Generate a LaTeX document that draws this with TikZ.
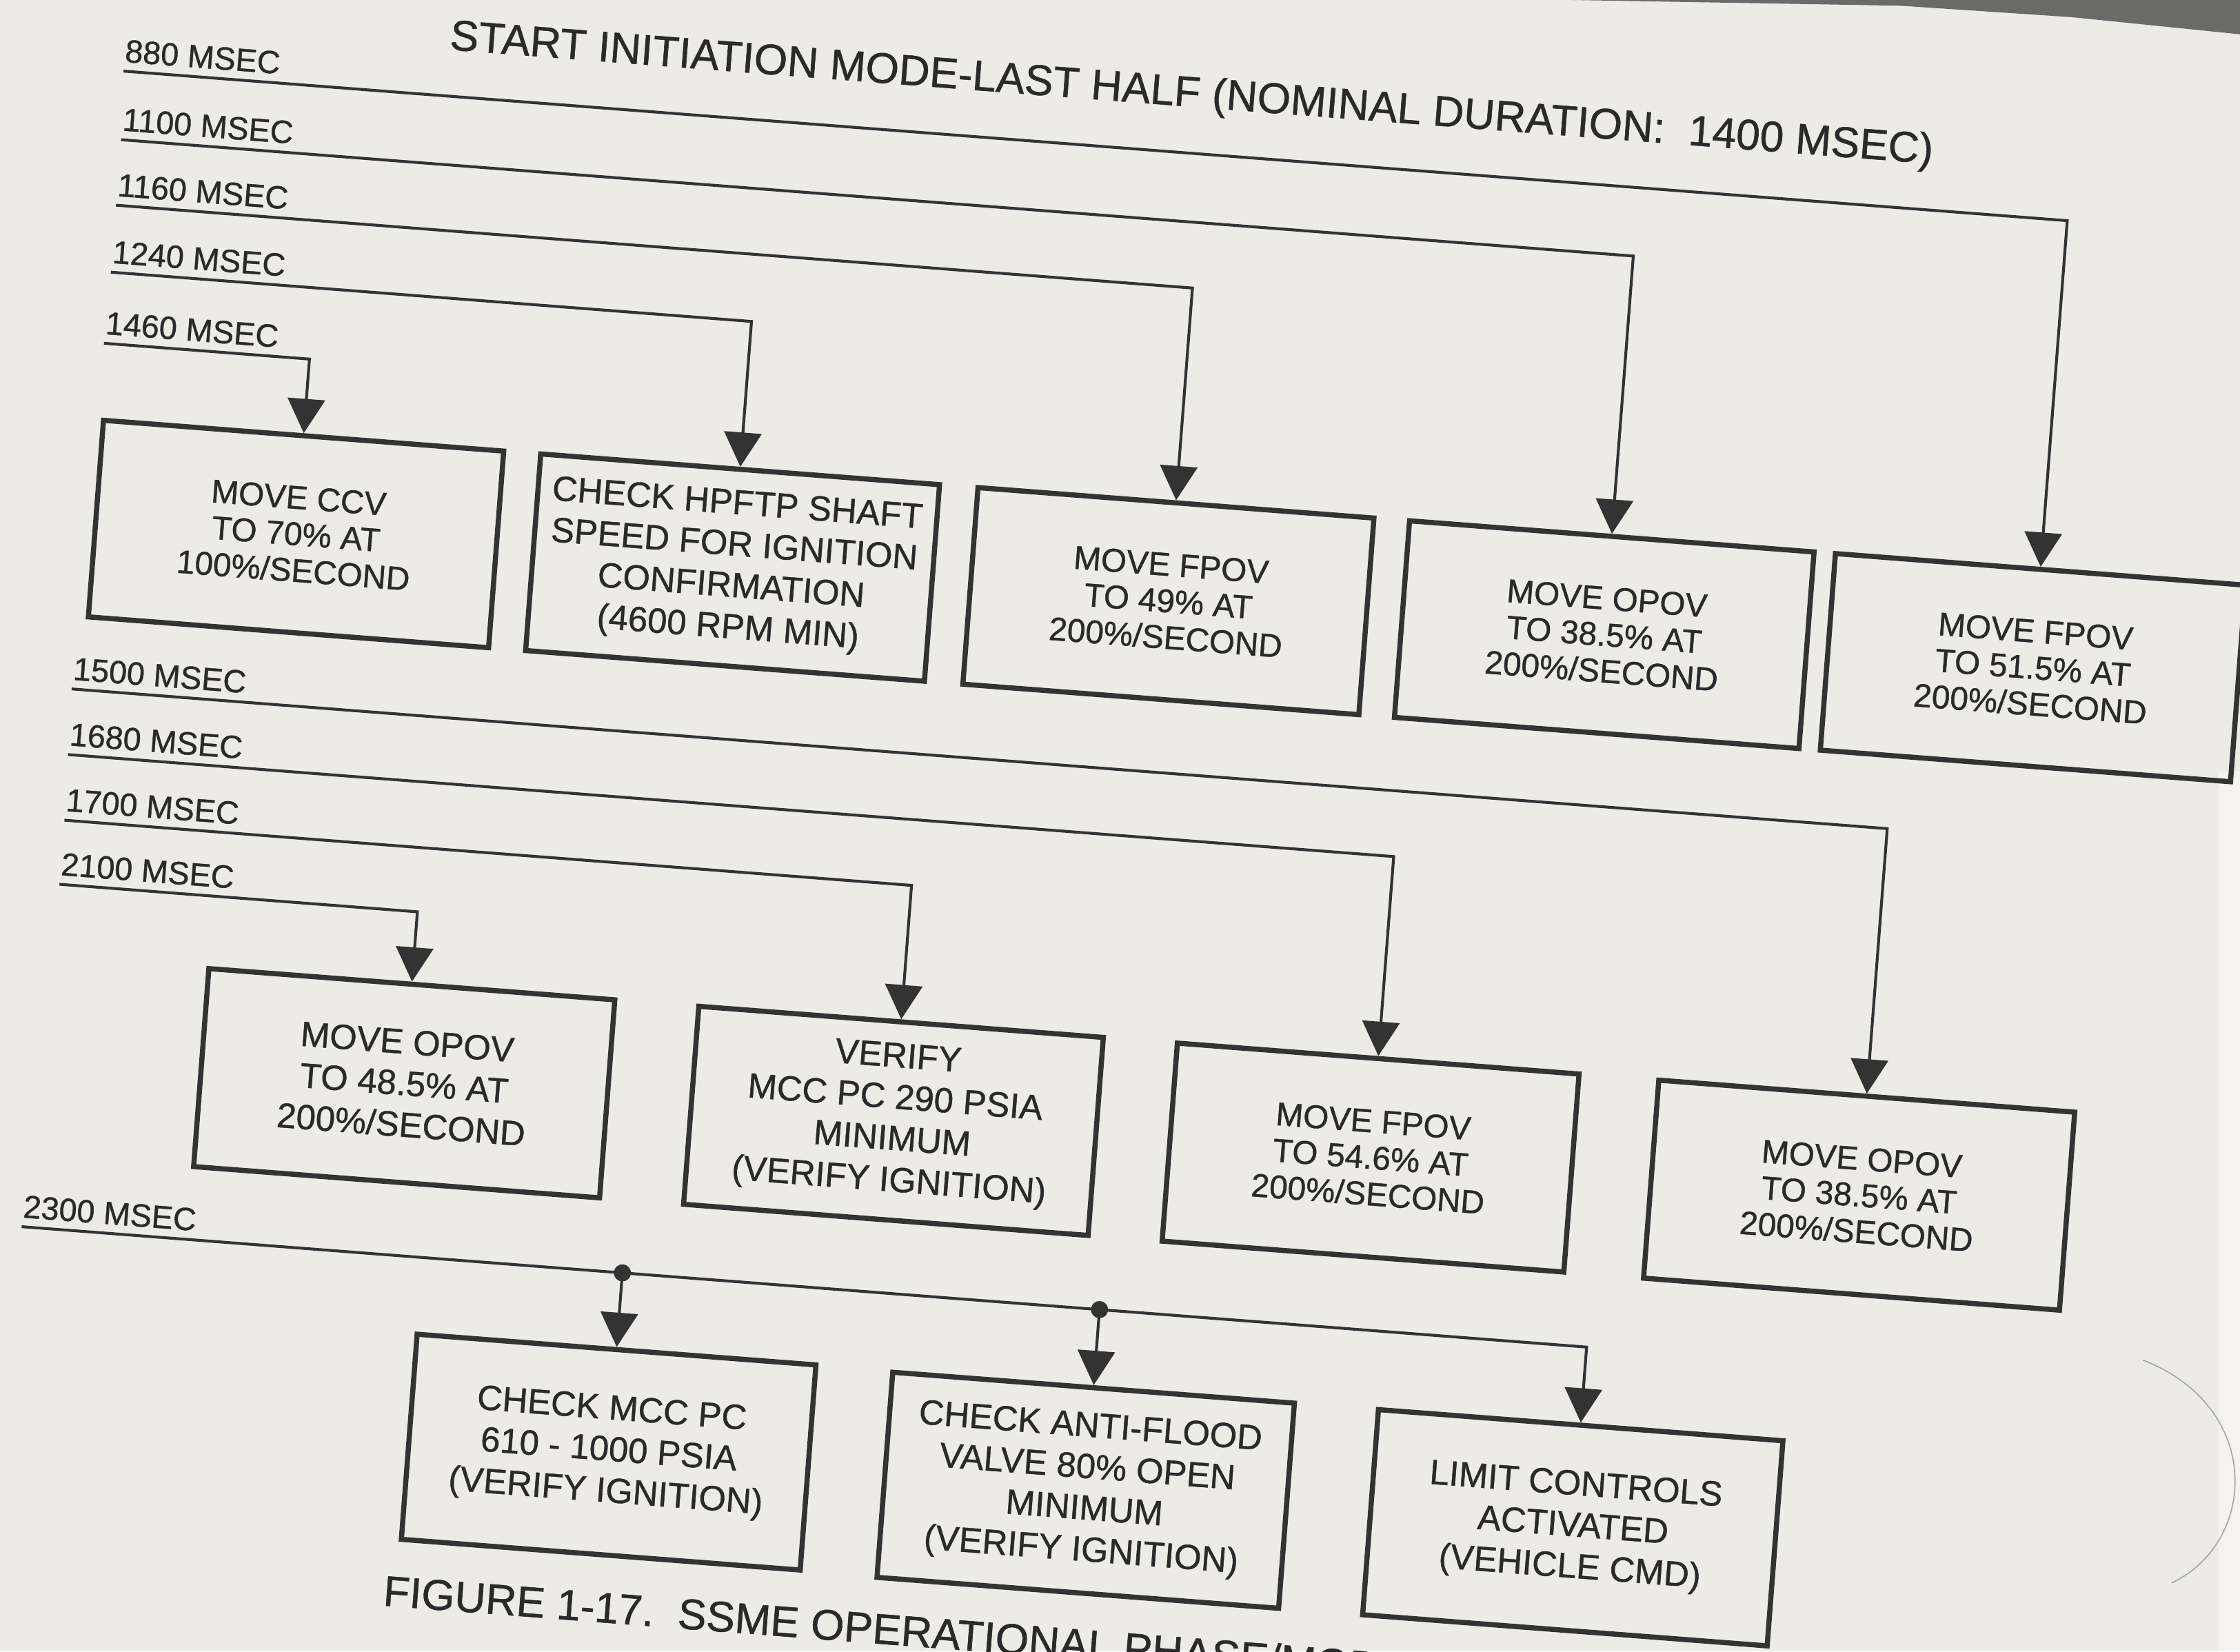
\documentclass[tikz,border=0pt]{standalone}
\usepackage{fontspec}
\setmainfont{Liberation Sans}
\newfontfamily\inkfont{Liberation Sans}[FakeBold=0.9]
\usetikzlibrary{arrows.meta,calc}
\definecolor{paper}{HTML}{ECEBE6}
\definecolor{ink}{HTML}{333333}
\definecolor{txt}{HTML}{2A2A2A}
\definecolor{edgeshade}{HTML}{6A6A68}
\definecolor{rim}{HTML}{F5F3F0}
\begin{document}
\begin{tikzpicture}[x=1pt,y=-1pt,
  stepbox/.style={draw=ink, line width=3.6pt, align=center, inner sep=0pt,
    anchor=north west, minimum height=138pt, text=txt,
    font=\inkfont\fontsize{23}{25.5}\selectfont},
  widetext/.style={font=\inkfont\fontsize{24.5}{29}\selectfont},
  conn/.style={draw=ink, line width=2pt},
  arr/.style={conn, -{Triangle[width=26pt,length=24pt]}},
  tlabel/.style={anchor=south west, inner sep=0pt, text=txt,
    font=\inkfont\fontsize{22.5}{24}\selectfont},
  junction/.style={circle, fill=ink, inner sep=0pt, minimum size=12pt},
]
\useasboundingbox (0,0) rectangle (1568,1156);
\clip (0,0) rectangle (1568,1156);
% paper
\fill[paper] (0,0) rectangle (1568,1156);
\fill[edgeshade] (1100,0) -- (1568,0) -- (1568,24) -- (1450,12) -- (1330,4) -- cycle;
\fill[rim] (1553,540) rectangle (1568,1156);
\draw[gray!70, line width=0.8pt] (1500,952) .. controls (1585,985) and (1580,1080) .. (1520,1108);

\begin{scope}[rotate=-4.4, transform shape]
  % heading
  \node[anchor=base west, inner sep=0pt, text=txt, font=\inkfont\fontsize{30}{32}\selectfont]
    (title) at (316,10.5) {START INITIATION MODE-LAST HALF (NOMINAL DURATION:\ \ 1400 MSEC)};

  % time lines (free ends on the left)
  \coordinate (t880)  at (90,43);
  \coordinate (t1100) at (92,91);
  \coordinate (t1160) at (92,137);
  \coordinate (t1240) at (92,184);
  \coordinate (t1460) at (91,234);
  \coordinate (t1500) at (87,477);
  \coordinate (t1680) at (88,523);
  \coordinate (t1700) at (89,569);
  \coordinate (t2100) at (89,614);
  \coordinate (t2300) at (81,855);

  \node[tlabel] (l880)  at ($(t880)+(0,-6)$)  {880 MSEC};
  \node[tlabel] (l1100) at ($(t1100)+(0,-6)$) {1100 MSEC};
  \node[tlabel] (l1160) at ($(t1160)+(0,-6)$) {1160 MSEC};
  \node[tlabel] (l1240) at ($(t1240)+(0,-6)$) {1240 MSEC};
  \node[tlabel] (l1460) at ($(t1460)+(0,-6)$) {1460 MSEC};
  \node[tlabel] (l1500) at ($(t1500)+(0,-6)$) {1500 MSEC};
  \node[tlabel] (l1680) at ($(t1680)+(0,-6)$) {1680 MSEC};
  \node[tlabel] (l1700) at ($(t1700)+(0,-6)$) {1700 MSEC};
  \node[tlabel] (l2100) at ($(t2100)+(0,-6)$) {2100 MSEC};
  \node[tlabel] (l2300) at ($(t2300)+(0,-6)$) {2300 MSEC};

  % first row
  \node[stepbox, minimum width=281pt] (b1) at (93,286) {MOVE CCV\\TO 70\% AT\\100\%/SECOND};
  \node[stepbox, widetext, minimum width=280pt] (b2) at (400,286) {CHECK HPFTP SHAFT\\SPEED FOR IGNITION\\CONFIRMATION\\(4600 RPM MIN)};
  \node[stepbox, minimum width=278pt] (b3) at (707,286) {MOVE FPOV\\TO 49\% AT\\200\%/SECOND};
  \node[stepbox, minimum width=284pt] (b4) at (1010,286) {MOVE OPOV\\TO 38.5\% AT\\200\%/SECOND};
  \node[stepbox, minimum width=288pt] (b5) at (1309,286) {MOVE FPOV\\TO 51.5\% AT\\200\%/SECOND};

  % second row
  \node[stepbox, widetext, minimum width=285pt, minimum height=139pt] (bA) at (196,663) {MOVE OPOV\\TO 48.5\% AT\\200\%/SECOND};
  \node[stepbox, widetext, minimum width=284pt, minimum height=139pt] (bB) at (540,663) {VERIFY\\MCC PC 290 PSIA\\MINIMUM\\(VERIFY IGNITION)};
  \node[stepbox, minimum width=282pt, minimum height=139pt] (bC) at (876,663) {MOVE FPOV\\TO 54.6\% AT\\200\%/SECOND};
  \node[stepbox, minimum width=292pt, minimum height=139pt] (bD) at (1214,663) {MOVE OPOV\\TO 38.5\% AT\\200\%/SECOND};

  % third row
  \node[stepbox, widetext, minimum width=280pt, minimum height=144pt] (bE) at (361,907) {CHECK MCC PC\\610 - 1000 PSIA\\(VERIFY IGNITION)};
  \node[stepbox, widetext, minimum width=282pt, minimum height=144pt] (bF) at (695,908) {CHECK ANTI-FLOOD\\VALVE 80\% OPEN\\MINIMUM\\(VERIFY IGNITION)};
  \node[stepbox, widetext, minimum width=284pt, minimum height=144pt] (bG) at (1036,908) {LIMIT CONTROLS\\ACTIVATED\\(VEHICLE CMD)};

  % connectors
  \draw[arr] (t880)  -| (b5.north);
  \draw[arr] (t1100) -| (b4.north);
  \draw[arr] (t1160) -| (b3.north);
  \draw[arr] (t1240) -| (b2.north);
  \draw[arr] (t1460) -| (b1.north);
  \draw[arr] (t1500) -| (bD.north);
  \draw[arr] (t1680) -| (bC.north);
  \draw[arr] (t1700) -| (bB.north);
  \draw[arr] (t2100) -| (bA.north);
  \draw[arr] (t2300) -| (bG.north);
  \node[junction] (j1) at (t2300 -| bE.north) {};
  \node[junction] (j2) at (t2300 -| bF.north) {};
  \draw[arr] (j1.center) -- (bE.north);
  \draw[arr] (j2.center) -- (bF.north);

  % caption
  \node[anchor=base west, inner sep=0pt, text=txt, font=\inkfont\fontsize{30}{32}\selectfont]
    (caption) at (353,1100) {FIGURE 1-17.\ \ SSME OPERATIONAL PHASE/MODE};
\end{scope}
\end{tikzpicture}
\end{document}
